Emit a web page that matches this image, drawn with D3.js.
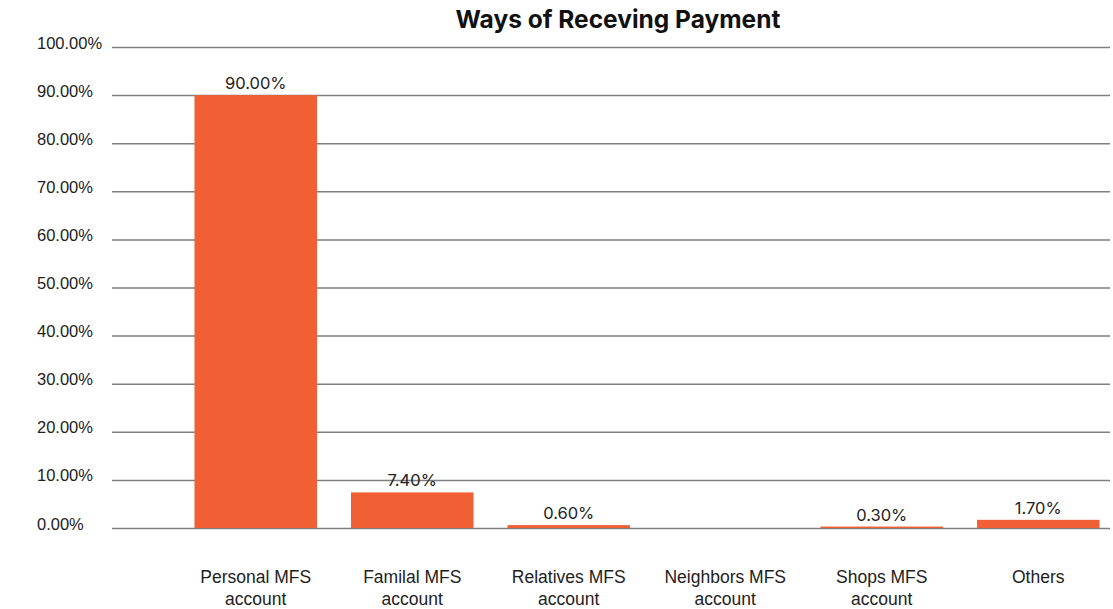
<!DOCTYPE html>
<html>
<head>
<meta charset="utf-8">
<script src="https://cdn.jsdelivr.net/npm/d3@7"></script>
<style>
  html, body { margin: 0; padding: 0; background: #fff; }
  svg { display: block; font-family: Inter, "Noto Sans", sans-serif; }
</style>
</head>
<body>
<svg id="chart" width="1113" height="609"></svg>
<script>
// Payment channels and their shares (percent); Neighbors has no reported value
const categories = [
  ["Personal MFS", "account"],
  ["Familal MFS", "account"],
  ["Relatives MFS", "account"],
  ["Neighbors MFS", "account"],
  ["Shops MFS", "account"],
  ["Others"]
];
const values = [90.0, 7.4, 0.6, null, 0.3, 1.7];
const yTicks = [0, 10, 20, 30, 40, 50, 60, 70, 80, 90, 100];
const title = "Ways of Receving Payment";

const svg = d3.select("#chart");
const gridLeft = 112, gridRight = 1110;
const plotTop = 47, plotBottom = 528;

const x = d3.scaleBand()
  .domain(d3.range(categories.length))
  .range([177.5, 1116.5])
  .paddingInner(0.217)
  .paddingOuter(0.1085);

const y = d3.scaleLinear().domain([0, 100]).range([plotBottom, plotTop]);
const fmt = v => v.toFixed(2) + "%";

// Title
svg.append("text")
  .attr("x", 618).attr("y", 28)
  .attr("text-anchor", "middle")
  .attr("font-size", 24.5).attr("font-weight", 700)
  .attr("fill", "#111")
  .text(title);

// Horizontal gridlines with left-aligned tick labels
const yAxis = d3.axisLeft(y).tickValues(yTicks)
  .tickSize(-(gridRight - gridLeft)).tickFormat(fmt);
const gy = svg.append("g").attr("transform", `translate(${gridLeft},0)`).call(yAxis);
gy.select(".domain").remove();
gy.selectAll(".tick line").attr("stroke", "#7f7f7f").attr("stroke-width", 1.5);
gy.selectAll(".tick text")
  .attr("x", 37 - gridLeft).attr("y", 1).attr("dy", 0)
  .attr("text-anchor", "start")
  .attr("font-size", 16.5).attr("fill", "#222");

// Bars
const data = values.map((v, i) => ({ i, v })).filter(d => d.v !== null);
svg.append("g").selectAll("rect").data(data).join("rect")
  .attr("x", d => x(d.i))
  .attr("width", x.bandwidth())
  .attr("y", d => y(d.v))
  .attr("height", d => y(0) - y(d.v))
  .attr("fill", "#f15f35");

// Value labels
svg.append("g").selectAll("text").data(data).join("text")
  .attr("x", d => x(d.i) + x.bandwidth() / 2)
  .attr("y", d => y(d.v) - 6)
  .attr("text-anchor", "middle")
  .attr("font-size", 16.5).attr("fill", "#222")
  .text(d => fmt(d.v));

// Category labels (two lines)
const xAxis = d3.axisBottom(x).tickSize(0).tickFormat("");
const gx = svg.append("g").attr("transform", `translate(0,${plotBottom})`).call(xAxis);
gx.select(".domain").remove();
gx.selectAll(".tick").each(function(d) {
  const t = d3.select(this).append("text")
    .attr("text-anchor", "middle")
    .attr("font-size", 17.5).attr("fill", "#222")
    .attr("y", 55);
  categories[d].forEach((line, k) => {
    t.append("tspan").attr("x", 0).attr("dy", k === 0 ? 0 : 22).text(line);
  });
});
</script>
</body>
</html>
